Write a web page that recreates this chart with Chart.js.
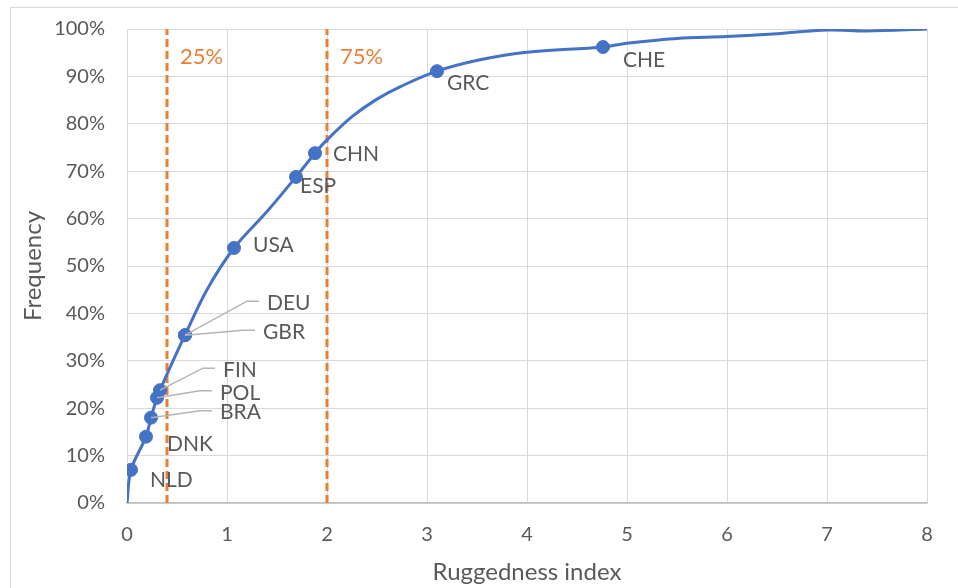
<!DOCTYPE html>
<html><head><meta charset="utf-8">
<script src="https://cdn.jsdelivr.net/npm/chart.js@4.4.0/dist/chart.umd.min.js"></script>
<style>html,body{margin:0;padding:0;background:#fff}#wrap{width:958px;height:588px;position:relative}</style>
</head><body><div id="wrap"><canvas id="c" width="958" height="588"></canvas></div>
<script>
// ---- data ----
const curveX = [0, 0.04, 0.19, 0.24, 0.30, 0.33, 0.45, 0.58, 0.80, 1.07, 1.40, 1.69, 1.88, 2.0, 2.25, 2.5, 2.75, 3.10, 3.53, 4.0, 4.76, 5.0, 5.5, 6.0, 6.5, 7.0, 7.4, 8.0];
const curveY = [0, 7, 14, 18, 22.2, 23.8, 29.5, 35.4, 45, 53.8, 61.5, 68.8, 73.8, 76.6, 81.5, 85.2, 88, 91.1, 93.5, 95.1, 96.2, 97.0, 98.0, 98.4, 99.0, 99.8, 99.6, 100];
const countries = ['NLD','DNK','BRA','POL','FIN','GBR','DEU','USA','ESP','CHN','GRC','CHE'];
const countryX = [0.04, 0.19, 0.24, 0.30, 0.33, 0.58, 0.58, 1.07, 1.69, 1.88, 3.10, 4.76];
const countryY = [7, 14, 18, 22.2, 23.8, 35.4, 35.4, 53.8, 68.8, 73.8, 91.1, 96.2];
const quartileX = [0.4, 2.0];
const quartileLabels = ['25%', '75%'];
const xTickValues = [0, 1, 2, 3, 4, 5, 6, 7, 8];
const yTickValues = [0, 10, 20, 30, 40, 50, 60, 70, 80, 90, 100];

// ---- label placement (styling only) ----
const labelPlacement = {
  NLD:{dx:19,dy:10}, DNK:{dx:21,dy:8},
  BRA:{dx:69,dy:-5,leader:true}, POL:{dx:63,dy:-5,leader:true}, FIN:{dx:63,dy:-20,leader:true},
  GBR:{dx:78,dy:-3,leader:true}, DEU:{dx:82,dy:-32,leader:true},
  USA:{dx:19,dy:-3}, ESP:{dx:4,dy:9}, CHN:{dx:18,dy:1}, GRC:{dx:10,dy:12}, CHE:{dx:20,dy:13}
};

const BLUE = '#4472C4', ORANGE = '#ED7D31', TXT = '#595959', GRID = '#d9d9d9';
const FONT = 'Lato, "Noto Sans", sans-serif';

const curveData = curveX.map((x,i)=>({x, y: curveY[i]}));
const pointData = countryX.map((x,i)=>({x, y: countryY[i]}));
const quartileDatasets = quartileX.map(q => ({
  type:'line', data:[{x:q,y:0},{x:q,y:100}], borderColor: ORANGE, borderWidth: 3,
  borderDash:[8,4], pointRadius:0, fill:false, order:3
}));

const extras = {
  id:'extras',
  beforeDraw(chart){
    const ctx = chart.ctx;
    ctx.save();
    ctx.fillStyle = '#fff';
    ctx.fillRect(0,0,chart.width,chart.height);
    ctx.strokeStyle = GRID; ctx.lineWidth = 1;
    ctx.strokeRect(10.5, 7.5, chart.width, chart.height);
    ctx.restore();
  },
  afterDatasetsDraw(chart){
    const ctx = chart.ctx, xs = chart.scales.x, ys = chart.scales.y;
    ctx.save();
    // quartile labels
    ctx.font = '22px ' + FONT; ctx.fillStyle = ORANGE;
    ctx.textBaseline = 'middle'; ctx.textAlign = 'left';
    quartileX.forEach((q,i)=>{
      ctx.fillText(quartileLabels[i], xs.getPixelForValue(q) + 13, chart.chartArea.top + 28);
    });
    // country labels
    ctx.font = '21px ' + FONT;
    ctx.fillStyle = TXT;
    countries.forEach((c,i)=>{
      const px = xs.getPixelForValue(countryX[i]), py = ys.getPixelForValue(countryY[i]);
      const p = labelPlacement[c];
      const tx = px + p.dx, ty = py + p.dy;
      if (p.leader){
        ctx.strokeStyle = '#b4b4b4'; ctx.lineWidth = 1.5;
        ctx.beginPath();
        ctx.moveTo(px, py);
        ctx.lineTo(tx - 20, ty - 2);
        ctx.lineTo(tx - 8, ty - 2);
        ctx.stroke();
      }
      ctx.fillText(c, tx, ty);
    });
    ctx.restore();
  }
};

new Chart(document.getElementById('c'), {
  type:'scatter',
  data:{ datasets:[
    { type:'line', data: curveData, borderColor: BLUE, borderWidth: 3, pointRadius: 0,
      tension: 0.35, fill:false, order:2 },
    { type:'scatter', data: pointData, backgroundColor: BLUE, borderColor: BLUE,
      pointRadius: 6.5, order:1 },
    ...quartileDatasets
  ]},
  options:{
    responsive:false, animation:false, devicePixelRatio:1,
    layout:{ padding:{ left:0, right:31, top:29, bottom:0 } },
    plugins:{ legend:{display:false}, tooltip:{enabled:false} },
    scales:{
      x:{ type:'linear', min:0, max:8,
        afterBuildTicks(s){ s.ticks = xTickValues.map(v=>({value:v})); },
        afterFit(s){ s.height = 85; s.paddingLeft = 0; s.paddingRight = 0; },
        grid:{ color: GRID, drawTicks:false },
        border:{ color:'#bfbfbf', width:1.5 },
        ticks:{ padding:20, color: TXT, font:{ family: FONT, size:20 } },
        title:{ display:true, text:'Ruggedness index', color: TXT,
          font:{ family: FONT, size:24 }, padding:{ top:0, bottom:1.5 } }
      },
      y:{ type:'linear', min:0, max:100,
        afterBuildTicks(s){ s.ticks = yTickValues.map(v=>({value:v})); },
        afterFit(s){ s.width = 127; s.paddingTop = 0; s.paddingBottom = 0; },
        grid:{ color: GRID, drawTicks:false },
        border:{ color: GRID },
        ticks:{ padding:22, color: TXT, font:{ family: FONT, size:20 }, callback:v=>v+'%' },
        title:{ display:true, text:'Frequency', color: TXT,
          font:{ family: FONT, size:24 }, padding:{ top:18.5, bottom:0 } }
      }
    }
  },
  plugins:[extras]
});
</script></body></html>
